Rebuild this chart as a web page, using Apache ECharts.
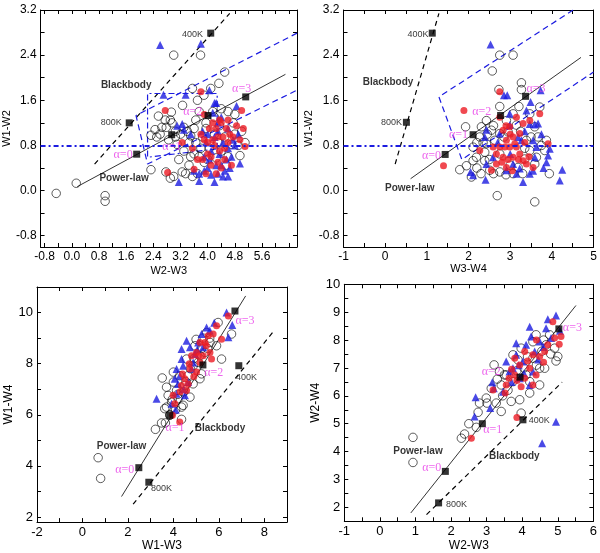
<!DOCTYPE html>
<html lang="en" style="height: 100%">
<head>
  <meta charset="utf-8">
</head>
<body style="height: 100%; margin: 0; background: #fff">
<div id="container" style="width: 600px; height: 553px"></div>

<script type="text/javascript" src="https://fastly.jsdelivr.net/npm/echarts@6/dist/echarts.min.js"></script>
<script type="text/javascript">
  // ---------- panel 1 : W2-W3 vs W1-W2 ----------
  var p1Open = [[-0.46,-0.05],[0.13,0.13],[0.98,-0.09],[0.98,-0.19],[2.33,0.37],[2.33,0.98],[2.45,1.08],[2.55,1.32],
    [2.65,1.12],[2.78,1.12],[2.9,1.25],[3.0,2.4],[2.95,1.2],[2.93,1.39],[3.05,0.95],[3.26,1.51],[3.3,1.12],[3.4,1.05],
    [3.5,0.97],[3.55,1.81],[3.6,1.1],[3.7,1.6],[3.79,2.4],[3.75,1.4],[3.89,1.69],[3.95,1.2],[4.09,1.81],[4.15,1.4],
    [4.33,1.9],[4.4,1.45],[4.5,2.1],[4.6,1.4],[4.8,1.35],[2.77,0.33],[3.0,0.25],[3.25,0.33],[3.55,0.25],[3.7,0.3],
    [3.75,0.6],[3.9,0.5],[4.05,0.75],[4.25,0.58],[4.4,0.7],[4.6,0.6],[4.7,0.82],[4.8,1.0],[5.0,1.05],[5.1,0.85],
    [4.75,1.2],[4.95,0.62],[2.9,0.22],[3.15,0.55],[3.45,0.45],[3.6,0.65],[4.5,0.95],[4.35,1.15],[3.65,0.85],
    [3.85,0.95],[4.2,1.0],[2.6,1.0],[2.85,0.9],[3.1,0.82],[3.35,0.3],[3.5,0.6],[3.2,1.0],[2.75,1.25],
    [3.3,0.7],[3.45,0.85],[3.8,0.75],[4.0,0.55],[4.3,0.85],[4.55,0.45],[4.9,0.8],[3.95,1.1],[4.2,1.3],[3.65,1.25],
    [2.5,0.95],[3.05,1.05]];
  var p1Red = [[2.75,1.42],[3.8,1.75],[2.82,0.32],[3.25,0.85],[3.6,0.38],[3.7,0.55],[3.9,0.9],[4.0,0.65],[4.05,1.1],
    [4.1,0.6],[4.2,0.8],[4.25,1.1],[4.3,0.5],[4.35,1.25],[4.4,1.2],[4.45,0.95],[4.5,0.75],[4.55,1.1],[4.6,1.25],
    [4.7,0.45],[4.75,0.95],[4.85,1.15],[4.95,0.9],[5.0,1.42],[5.05,1.1],[5.1,0.78],[4.1,0.45],[4.25,0.3],[3.9,1.35],
    [4.0,0.85],[3.85,0.55],[4.6,0.85],[4.15,1.2],[4.4,0.4],[3.55,0.75],[3.95,0.3],
    [4.3,0.95],[4.5,0.55],[3.8,1.0],[4.65,1.0],[4.15,0.9],[4.35,0.7]];
  var p1Blue = [[2.6,2.58],[3.8,2.6],[2.7,1.7],[3.35,1.7],[4.05,1.78],[4.2,1.55],[4.25,1.55],[3.25,1.18],[3.1,1.15],
    [3.3,1.08],[4.15,1.38],[4.3,1.05],[4.45,0.85],[4.6,0.75],[4.8,0.8],[4.85,1.5],[4.9,1.0],[4.95,0.48],[3.15,0.15],
    [3.75,0.17],[4.2,0.15],[4.1,0.28],[3.9,0.35],[3.75,0.3],[4.0,0.4],[4.3,0.3],[4.4,0.45],[4.5,0.35],[4.55,0.55],
    [4.65,0.4],[4.7,0.6],[4.35,0.65],[4.1,0.7],[4.2,0.95],[4.0,1.0],[3.95,0.85],[3.85,1.05],[4.3,1.2],[4.6,1.1],
    [4.45,0.25],[3.6,0.35],[4.75,0.9],
    [4.05,0.55],[4.25,0.45],[4.6,0.25],[3.5,1.0],[4.4,1.3],[3.9,0.6]];
  var p1Power = [[0.16,0.07],[6.29,2.06]];
  var p1PowerSq = [[1.91,0.645],[2.94,0.99],[4.01,1.33],[5.12,1.66]];
  var p1Body = [[0.67,0.47],[4.65,3.14]];
  var p1BodySq = [[1.69,1.2],[4.09,2.79]];
  var p1Wedge = [[6.63,2.79],[1.89,1.33],[2.23,0.47],[6.63,1.78]];
  var p1Box = [[4.28,0.74],[4.28,1.72],[2.23,1.72],[2.23,0.59],[4.28,0.74]];
  var p1Temps = [[3.55,2.76,'400K'],[1.16,1.21,'800K']];
  var p1Models = [[1.6,1.87,'Blackbody'],[1.54,0.21,'Power-law']];
  var p1Alphas = [[1.51,0.64,'α=0'],[2.94,0.78,'α=1'],[3.56,1.39,'α=2'],[5.0,1.81,'α=3']];
  var p1XTicks = [-0.8,-0.4,0,0.4,0.8,1.2,1.6,2.0,2.4,2.8,3.2,3.6,4.0,4.4,4.8,5.2,5.6,6.0,6.4];
  var p1XLabels = [-0.8,0,0.8,1.6,2.4,3.2,4.0,4.8,5.6];
  var p1YTicks = [-0.8,-0.4,0,0.4,0.8,1.2,1.6,2.0,2.4,2.8,3.2];
  var p1YLabels = [-0.8,0,0.8,1.6,2.4,3.2];

  // ---------- panel 2 : W3-W4 vs W1-W2 ----------
  var p2Open = [[2.75,2.4],[3.07,2.4],[2.57,2.12],[3.27,1.91],[2.73,1.79],[3.27,1.79],[2.75,1.49],[3.21,1.49],
    [1.93,1.13],[1.95,0.44],[1.79,0.37],[2.07,0.24],[2.69,-0.09],[3.59,-0.2],[3.94,0.3],[3.59,0.47],[3.63,0.59],
    [3.83,0.71],[3.67,0.95],[2.43,1.24],[2.55,1.07],[2.27,0.95],[2.11,0.77],[2.19,0.59],[2.39,0.53],[2.51,0.36],
    [2.75,0.33],[3.07,0.3],[3.19,0.41],[2.75,0.65],[2.63,0.89],[2.95,1.04],[3.15,1.16],[3.47,1.36],[3.07,1.36],
    [2.91,1.24],[3.39,0.89],[3.47,0.71],[2.43,0.83],[2.31,1.13],[2.75,1.01],[3.59,1.13],[3.71,1.48],[3.87,0.89],
    [2.11,0.53],[3.35,0.56],[2.39,0.68],[2.2,0.4],[2.3,0.3],[2.6,0.3],[2.9,0.28],[3.3,0.3],[2.45,1.0],[2.35,0.85],
    [2.6,1.15],[2.85,0.95],[3.25,1.05],[3.35,0.75],[2.5,0.55],[3.5,0.95],[3.75,0.8],[2.2,0.85],[3.0,0.45]];
  var p2Red = [[1.89,1.42],[1.4,0.44],[2.75,1.75],[2.27,0.71],[2.75,1.3],[2.83,1.07],[2.91,0.89],[2.99,0.77],
    [3.07,0.95],[3.15,0.77],[3.23,0.65],[3.31,0.53],[3.07,0.59],[2.83,0.59],[2.67,0.47],[2.55,0.36],[2.91,0.41],
    [3.23,1.01],[3.31,1.19],[3.47,1.24],[3.71,1.36],[3.91,0.83],[2.75,0.77],[2.59,0.77],[2.99,1.13],[3.15,1.3],
    [3.55,0.41],[3.39,0.47],[2.67,0.65],[2.87,0.77],[3.11,0.83],[3.0,1.0],[2.95,0.55],
    [2.9,1.15],[3.2,0.55],[3.35,0.85],[2.8,0.5],[3.05,0.35],[3.45,0.6]];
  var p2Blue = [[2.53,2.59],[2.85,1.69],[2.93,1.69],[3.73,1.78],[3.47,1.18],[3.59,1.17],[3.67,1.19],[3.49,1.57],
    [2.43,1.08],[2.11,0.27],[2.05,0.33],[2.41,0.19],[3.31,0.15],[3.91,0.62],[3.87,0.5],[3.95,0.74],[4.19,0.18],
    [4.25,0.37],[2.75,1.01],[2.99,1.16],[3.19,0.95],[3.55,0.89],[3.63,0.77],[3.07,0.47],[2.91,0.36],[3.23,0.39],
    [2.59,0.59],[2.43,0.47],[3.47,0.3],[3.59,0.59],[3.27,0.89],[2.99,1.36],[3.39,1.42],[2.39,0.95],[3.15,0.3],
    [3.0,0.65],[3.35,1.05],[2.7,0.85],[3.75,1.0],[3.55,0.35],[3.8,0.4]];
  var p2Power = [[0.61,0.21],[4.7,2.36]];
  var p2PowerSq = [[1.44,0.64],[2.11,0.99],[2.77,1.33],[3.37,1.67]];
  var p2Body = [[0.24,0.47],[1.29,3.14]];
  var p2BodySq = [[0.51,1.21],[1.13,2.79]];
  var p2Wedge = [[4.51,3.2],[1.29,1.66],[1.84,0.55],[5.0,2.1]];
  var p2Temps = [[0.79,2.76,'400K'],[0.15,1.21,'800K']];
  var p2Models = [[0.07,1.92,'Blackbody'],[0.59,0.04,'Power-law']];
  var p2Alphas = [[1.11,0.62,'α=0'],[1.76,0.98,'α=1'],[2.32,1.4,'α=2'],[3.62,1.8,'α=3']];
  var p2XTicks = [-1,-0.5,0,0.5,1,1.5,2,2.5,3,3.5,4,4.5,5];
  var p2XLabels = [-1,0,1,2,3,4,5];

  // ---------- panel 3 : W1-W3 vs W1-W4 ----------
  var p3Open = [[0.69,4.32],[0.8,3.51],[3.21,5.43],[3.48,5.68],[3.65,5.68],[3.51,7.44],[4.36,5.82],[4.43,6.37],
    [3.77,6.76],[3.7,6.3],[3.92,6.5],[4.14,6.95],[4.0,7.28],[4.28,7.53],[4.5,7.15],[4.65,7.53],[4.87,7.92],
    [5.09,8.05],[5.17,8.31],[5.39,8.44],[5.61,8.83],[5.9,8.7],[6.12,8.18],[6.56,9.16],[5.97,9.61],[5.17,7.41],
    [5.24,7.6],[4.21,6.63],[4.73,6.69],[4.36,6.3],[3.84,5.98],[3.62,6.24],[4.0,7.67],[4.95,8.7],[4.58,8.18],
    [5.46,9.22],[3.7,7.08],[4.87,7.21],[3.85,6.0],[4.1,6.2],[4.45,6.9],[4.75,7.8],[5.0,8.95],[5.3,9.0],
    [4.2,6.8],[4.55,7.3],[4.9,8.2],[5.25,8.6],[5.6,9.0],[3.95,6.6],[5.5,8.6]];
  var p3Red = [[4.28,5.72],[3.96,5.98],[3.99,6.76],[4.06,6.43],[4.5,7.41],[4.73,7.79],[4.8,8.31],[5.02,8.44],
    [5.17,8.05],[5.31,8.31],[5.39,8.83],[5.53,9.09],[5.75,9.16],[5.9,9.48],[6.12,8.96],[6.42,9.87],[5.61,8.44],
    [4.36,7.15],[4.58,6.95],[5.02,7.67],[5.17,8.83],[5.68,8.18],[4.7,8.0],[4.9,7.5],
    [4.4,7.6],[4.65,7.2],[5.1,8.3],[5.45,8.7],[4.3,6.9]];
  var p3Blue = [[3.26,6.63],[4.36,8.57],[4.58,8.9],[5.46,9.42],[6.34,10.0],[6.59,9.51],[6.42,9.03],[3.92,6.43],
    [4.14,6.82],[4.28,7.53],[4.43,7.92],[4.73,8.64],[4.95,8.38],[5.09,8.83],[5.24,9.16],[4.65,7.28],[4.14,7.79],
    [4.36,8.18],[5.31,8.64],[4.87,8.05],[4.51,6.76],[4.06,7.41],[5.8,9.6],[4.2,7.2],
    [4.45,7.0],[4.8,7.8],[5.05,8.55],[5.6,9.3],[4.1,6.2]];
  var p3Power = [[1.72,2.8],[7.18,10.65]];
  var p3PowerSq = [[2.48,3.93],[3.84,5.98],[5.3,7.95],[6.71,10.06]];
  var p3Body = [[2.23,2.5],[8.43,9.29]];
  var p3BodySq = [[2.92,3.36],[6.88,7.92]];
  var p3Temps = [[7.22,7.47,'400K'],[3.48,3.13,'800K']];
  var p3Models = [[6.05,5.46,'Blackbody'],[1.72,4.75,'Power-law']];
  var p3Alphas = [[1.86,3.84,'α=0'],[4.07,5.49,'α=1'],[5.78,7.66,'α=2'],[7.15,9.68,'α=3']];
  var p3XTicks = [-2,-1,0,1,2,3,4,5,6,7,8];
  var p3XLabels = [-2,0,2,4,6,8];
  var p3YTicks = [2,3,4,5,6,7,8,9,10];
  var p3YLabels = [2,4,6,8,10];

  // ---------- panel 4 : W2-W3 vs W2-W4 ----------
  var p4Open = [[0.93,4.51],[0.93,3.61],[2.29,4.48],[2.38,4.63],[2.5,5.0],[2.71,4.87],[2.76,5.41],[2.8,5.74],
    [3.01,5.74],[3.27,5.74],[3.21,7.11],[3.41,5.44],[3.41,6.39],[3.55,6.75],[3.69,5.8],[3.74,6.51],[3.93,5.86],
    [3.97,5.38],[3.88,7.29],[4.11,6.75],[4.21,6.1],[4.3,7.35],[4.39,8.19],[4.49,6.39],[4.67,7.83],[4.77,8.19],
    [4.91,7.71],[5.0,7.41],[4.95,7.25],[4.49,6.99],[4.3,7.94],[3.74,7.47],[3.5,6.75],[4.21,6.51],[3.13,6.27],
    [3.36,6.87],[3.97,7.71],[4.63,6.99],[2.99,5.92],[3.3,6.6],[4.05,7.0],[4.55,7.6],
    [3.6,6.2],[3.85,6.9],[4.15,7.4],[4.4,7.1],[4.6,8.0],[3.45,6.0],[4.8,7.5]];
  var p4Red = [[2.57,4.48],[3.85,5.22],[3.18,6.21],[3.52,6.1],[3.63,6.63],[3.79,6.75],[3.93,7.11],[4.07,6.63],
    [4.21,6.99],[4.3,7.47],[4.39,6.75],[4.49,7.41],[4.63,7.59],[4.72,7.83],[4.91,8.07],[5.09,8.13],[5.04,7.85],
    [3.79,7.35],[3.97,6.33],[4.3,6.39],[3.55,6.39],[4.86,8.66],[4.07,7.59],
    [3.7,6.95],[4.15,7.25],[4.6,7.2],[4.4,8.0],[3.85,6.55]];
  var p4Blue = [[2.66,5.26],[2.69,5.95],[3.1,5.56],[3.16,6.49],[3.2,6.27],[4.21,8.48],[4.25,8.13],[4.72,8.75],
    [4.95,8.88],[5.06,8.33],[4.95,5.07],[4.56,4.3],[3.64,6.87],[3.83,7.47],[3.93,6.63],[4.02,7.23],[4.11,7.83],
    [4.3,6.87],[4.35,7.59],[4.49,7.95],[4.67,8.42],[4.81,8.07],[3.74,6.99],[3.46,6.15],[4.21,6.39],[3.83,7.89],
    [3.55,7.23],[3.9,7.1],[4.05,6.8],[4.45,7.3],[4.6,7.75],[3.7,6.5]];
  var p4Power = [[0.87,1.8],[5.51,9.24]];
  var p4PowerSq = [[1.84,3.29],[2.88,5.0],[3.94,6.67],[5.03,8.4]];
  var p4Body = [[1.31,1.74],[5.12,6.49]];
  var p4BodySq = [[1.65,2.16],[4.02,5.14]];
  var p4Temps = [[4.48,5.11,'400K'],[2.15,2.11,'800K']];
  var p4Models = [[3.78,3.82,'Blackbody'],[1.07,4.0,'Power-law']];
  var p4Alphas = [[1.46,3.41,'α=0'],[3.17,4.78,'α=1'],[3.13,6.85,'α=2'],[5.41,8.44,'α=3']];
  var p4XTicks = [-1,-0.5,0,0.5,1,1.5,2,2.5,3,3.5,4,4.5,5,5.5,6];
  var p4XLabels = [-1,0,1,2,3,4,5,6];
  var p4YTicks = [2,2.5,3,3.5,4,4.5,5,5.5,6,6.5,7,7.5,8,8.5,9,9.5,10];
  var p4YLabels = [2,3,4,5,6,7,8,9,10];

  var refLevel = 0.8;

  var FONT = '"Liberation Sans", Arial, sans-serif';
  var BLUE = '#1c1ce0';
  var dom = document.getElementById('container');
  var myChart = echarts.init(dom, null, { renderer: 'canvas' });

  var grids = [], xAxes = [], yAxes = [], series = [];

  function oneDec(v) { return v.toFixed(1); }
  function plain(v) { return String(v); }

  function axis(k, pos, min, max, ticks, labels, fmt, fs, name, gap) {
    var a = {
      gridIndex: k, type: 'value', position: pos, min: min, max: max,
      axisLine: { onZero: false, lineStyle: { color: '#000', width: 1 } },
      axisTick: { inside: true, length: 4, customValues: ticks, lineStyle: { color: '#000' } },
      axisLabel: labels ? { customValues: labels, formatter: fmt, fontSize: fs, color: '#000', fontFamily: FONT, margin: 4 }
                        : { show: false },
      splitLine: { show: false }
    };
    if (name) {
      a.name = name; a.nameLocation = 'middle'; a.nameGap = gap;
      a.nameTextStyle = { fontSize: fs - 1, color: '#000', fontFamily: FONT };
    }
    return a;
  }

  function textSeries(k, pts, style) {
    return {
      type: 'scatter', xAxisIndex: 2 * k, yAxisIndex: 2 * k, z: 6, silent: true,
      symbolSize: 1, itemStyle: { color: 'rgba(0,0,0,0)' },
      data: pts.map(function (p) { return { value: [p[0], p[1]], name: p[2] }; }),
      label: Object.assign({ show: true, position: 'inside', formatter: '{b}' }, style)
    };
  }

  function panel(k, box, xr, yr, xt, xl, yt, yl, fmtX, fmtY, fs, xname, yname, gx, gy, d) {
    grids.push({ left: box[0], top: box[1], width: box[2], height: box[3] });
    xAxes.push(axis(k, 'bottom', xr[0], xr[1], xt, xl, fmtX, fs, xname, gx));
    xAxes.push(axis(k, 'top', xr[0], xr[1], xt, null));
    yAxes.push(axis(k, 'left', yr[0], yr[1], yt, yl, fmtY, fs, yname, gy));
    yAxes.push(axis(k, 'right', yr[0], yr[1], yt, null));
    var xi = 2 * k, yi = 2 * k;
    function s(o) { o.xAxisIndex = xi; o.yAxisIndex = yi; series.push(o); }

    var ref = {
      type: 'line', data: d.power, symbol: 'none', z: 2, silent: true,
      lineStyle: { color: '#000', width: 0.8 }
    };
    if (d.ref !== undefined) {
      ref.markLine = {
        silent: true, symbol: 'none', label: { show: false },
        lineStyle: { color: BLUE, width: 2, type: [5, 3, 2, 3] },
        data: [{ yAxis: d.ref }]
      };
    }
    s(ref);
    s({ type: 'line', data: d.body, symbol: 'none', z: 2, silent: true,
        lineStyle: { color: '#000', width: 1.2, type: [5, 4] } });
    if (d.wedge) {
      s({ type: 'line', data: d.wedge, symbol: 'none', z: 2, silent: true,
          lineStyle: { color: BLUE, width: 1.2, type: [6, 4] } });
    }
    if (d.box) {
      s({ type: 'line', data: d.box, symbol: 'none', z: 2, silent: true,
          lineStyle: { color: BLUE, width: 1.2, type: [6, 3, 2, 3] } });
    }
    s({ type: 'scatter', data: d.open, symbol: 'circle', symbolSize: 8.5, z: 3,
        itemStyle: { color: 'rgba(255,255,255,0)', borderColor: '#000', borderWidth: 0.8 } });
    s({ type: 'scatter', data: d.blue, symbol: 'triangle', symbolSize: 8, z: 3,
        itemStyle: { color: BLUE } });
    s({ type: 'scatter', data: d.red, symbol: 'circle', symbolSize: 7, z: 3,
        itemStyle: { color: '#ec1c24' } });
    s({ type: 'scatter', data: d.powerSq.concat(d.bodySq), symbol: 'rect', symbolSize: 7, z: 4,
        itemStyle: { color: '#000' } });

    series.push(textSeries(k, d.temps, { fontSize: 9, color: '#000', fontFamily: FONT }));
    series.push(textSeries(k, d.models, { fontSize: 10, fontWeight: 'bold', color: '#000', fontFamily: FONT }));
    series.push(textSeries(k, d.alphas, { fontSize: 12, color: '#e83ee8', fontFamily: '"Liberation Serif", serif' }));
  }

  panel(0, [39, 10, 258, 237], [-0.92, 6.63], [-1.0, 3.2], p1XTicks, p1XLabels, p1YTicks, p1YLabels,
    oneDec, oneDec, 12, 'W2-W3', 'W1-W2', 18, 26,
    { open: p1Open, red: p1Red, blue: p1Blue, power: p1Power, powerSq: p1PowerSq, body: p1Body, bodySq: p1BodySq,
      wedge: p1Wedge, box: p1Box, ref: refLevel, temps: p1Temps, models: p1Models, alphas: p1Alphas });

  panel(1, [343.5, 10, 250, 237], [-1, 5], [-1.0, 3.2], p2XTicks, p2XLabels, p1YTicks, p1YLabels,
    plain, oneDec, 12, 'W3-W4', 'W1-W2', 16, 26,
    { open: p2Open, red: p2Red, blue: p2Blue, power: p2Power, powerSq: p2PowerSq, body: p2Body, bodySq: p2BodySq,
      wedge: p2Wedge, ref: refLevel, temps: p2Temps, models: p2Models, alphas: p2Alphas });

  panel(2, [37, 287, 250, 236], [-2, 9], [1.8, 11], p3XTicks, p3XLabels, p3YTicks, p3YLabels,
    plain, plain, 13, 'W1-W3', 'W1-W4', 11, 20,
    { open: p3Open, red: p3Red, blue: p3Blue, power: p3Power, powerSq: p3PowerSq, body: p3Body, bodySq: p3BodySq,
      temps: p3Temps, models: p3Models, alphas: p3Alphas });

  panel(3, [344.3, 284.3, 249.7, 237], [-1, 6], [1.5, 10], p4XTicks, p4XLabels, p4YTicks, p4YLabels,
    plain, plain, 13, 'W2-W3', 'W2-W4', 13, 22,
    { open: p4Open, red: p4Red, blue: p4Blue, power: p4Power, powerSq: p4PowerSq, body: p4Body, bodySq: p4BodySq,
      temps: p4Temps, models: p4Models, alphas: p4Alphas });

  var option = {
    animation: false,
    backgroundColor: '#fff',
    grid: grids,
    xAxis: xAxes,
    yAxis: yAxes,
    series: series
  };

  myChart.setOption(option);
  window.addEventListener('resize', myChart.resize);
</script>
</body>
</html>
